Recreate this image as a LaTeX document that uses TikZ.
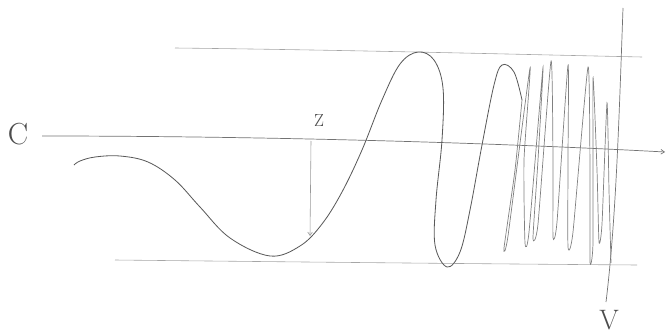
\documentclass[tikz,border=0pt]{standalone}
\usetikzlibrary{arrows.meta}
\begin{document}
\begin{tikzpicture}[
  x=0.03cm, y=-0.03cm,
  envline/.style = {gray!70, line width=0.5pt},
  axisline/.style = {gray!90!black, line width=0.6pt},
  waveline/.style = {black!65, line width=0.7pt},
  denseline/.style = {black!50, line width=0.6pt},
  sketchlbl/.style = {text=black!70, inner sep=0pt}
]
  \useasboundingbox (0,0) rectangle (670,335);
  % Huellkurve oben und unten
  \draw[envline] (175,48) .. controls (350,50) and (500,54) .. (642,57);
  \draw[envline] (115,260) .. controls (300,262) and (500,264) .. (637,265);
  % Achse
  \draw[axisline, -{Straight Barb[length=3pt, width=4pt]}] (42,136)
    .. controls (250,136) and (480,142) .. (665,152);
  % senkrechte Linie rechts
  \draw[axisline] (623,8) .. controls (619,120) and (616,220) .. (606,302);
  % Welle mit steigender Frequenz
  \draw[waveline] plot[smooth, tension=0.6] coordinates {
    (74,165) (80,161) (95,157) (120,156) (148,162) (175,180) (200,207)
    (230,238) (270,256) (300,246) (322,224) (342,192) (362,150)
    (382,100) (400,64) (418,52) (434,60) (443,88) (442,140)
    (436,200) (435,245) (447,267) (460,252) (470,210) (482,145)
    (494,85) (502,65) (514,72) (522,100)};
  \draw[denseline] plot[smooth, tension=0.35] coordinates {
    (522,100) (515,170) (504,248) (508,236) (530,68) (524,160)
    (525,243) (529,232) (543,67) (538,160) (533,238) (538,224)
    (551,61) (553,160) (553,237) (557,222) (568,65) (568,160)
    (568,247) (573,232) (588,67) (590,170) (590,262) (593,242)
    (593,78) (597,170) (599,242) (602,224) (607,103) (609,190)
    (611,263)};
  % Pfeil von der Achse zur Welle
  \coordinate (ztop) at (311,141);
  \coordinate (zbot) at (310,236);
  \draw[gray!80, line width=0.5pt, -{Straight Barb[length=3pt, width=4pt]}]
    (ztop) -- (zbot);
  % Beschriftungen
  \node[sketchlbl, font=\fontsize{26}{26}\selectfont] (lblc) at (18,134) {C};
  \node[sketchlbl, font=\fontsize{15}{15}\selectfont] (lblz) at (319,120) {Z};
  \node[sketchlbl, font=\fontsize{24}{24}\selectfont] (lblv) at (609,320) {V};
\end{tikzpicture}
\end{document}
